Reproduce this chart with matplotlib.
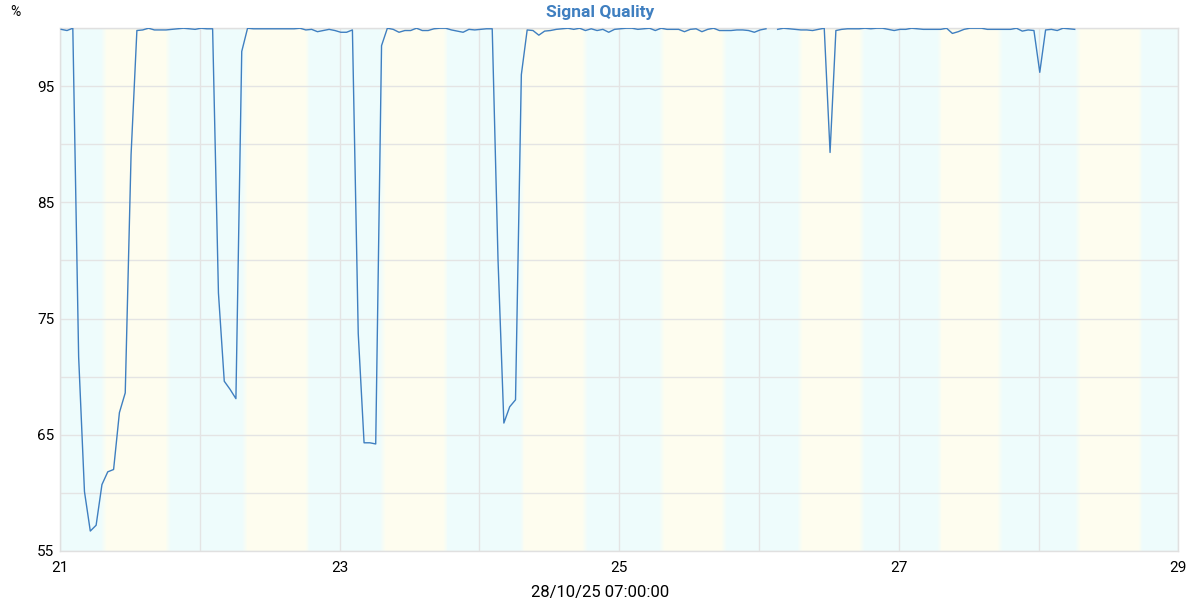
import numpy as np
import pandas as pd
import matplotlib
matplotlib.use("Agg")
import matplotlib.pyplot as plt
import matplotlib.dates as mdates
from matplotlib.colors import to_rgb

plt.rcParams['font.family'] = ['Roboto', 'DejaVu Sans']

# hourly signal quality samples (%), one missing reading
start = "2025-10-21 00:12"
quality = [
    99.9, 99.8, 100.0, 71.7, 60.1, 56.7, 57.2, 60.7, 61.8, 62.0,
    66.9, 68.6, 89.1, 99.8, 99.85, 100.0, 99.85, 99.85, 99.85, 99.9,
    99.95, 100.0, 99.95, 99.9, 100.0, 99.95, 99.95, 77.2, 69.6, 68.9,
    68.1, 98.0, 100.0, 99.95, 99.95, 99.95, 99.95, 99.95, 99.95, 99.95,
    99.95, 100.0, 99.85, 99.9, 99.7, 99.8, 99.9, 99.8, 99.65, 99.65,
    99.85, 73.7, 64.3, 64.3, 64.2, 98.5, 100.0, 99.9, 99.65, 99.8,
    99.8, 100.0, 99.8, 99.8, 99.95, 100.0, 100.0, 99.85, 99.75, 99.65,
    99.9, 99.85, 99.9, 99.95, 99.95, 80.0, 66.0, 67.4, 68.0, 96.0,
    99.85, 99.8, 99.4, 99.75, 99.8, 99.9, 99.95, 100.0, 99.9, 100.0,
    99.8, 99.95, 99.8, 99.9, 99.65, 99.9, 99.95, 100.0, 100.0, 99.9,
    99.95, 100.0, 99.8, 100.0, 99.9, 99.9, 99.9, 99.7, 99.9, 99.95,
    99.7, 99.9, 100.0, 99.8, 99.8, 99.8, 99.85, 99.85, 99.8, 99.65,
    99.85, 99.95, np.nan, 99.9, 100.0, 99.95, 99.9, 99.85, 99.85, 99.8,
    99.9, 100.0, 89.3, 99.8, 99.9, 99.95, 99.95, 99.95, 100.0, 99.95,
    100.0, 100.0, 99.9, 99.8, 99.9, 99.9, 100.0, 99.95, 99.9, 99.9,
    99.9, 99.9, 100.0, 99.55, 99.7, 99.9, 100.0, 100.0, 100.0, 99.9,
    99.9, 99.9, 99.9, 99.9, 100.0, 99.75, 99.85, 99.8, 96.2, 99.85,
    99.9, 99.8, 100.0, 99.95, 99.9,
]

# daylight bands (local hours)
days = pd.date_range("2025-10-21", "2025-10-29", freq="D")
sunrise_h = [7.6, 7.7, 7.4, 7.4, 7.3, 7.1, 7.0, 6.8]
sunset_h = [18.6, 18.5, 18.2, 18.1, 18.0, 17.7, 17.4, 17.5]

x_label = "28/10/25 07:00:00"
title = "Signal Quality"

times = pd.date_range(start, periods=len(quality), freq="h")

night_c = "#eefcfc"
day_c = "#fefdef"
blue = "#3f7fc0"


def blend(c1, c2, t):
    a = np.array(to_rgb(c1))
    b = np.array(to_rgb(c2))
    return tuple(a + (b - a) * t)


fig, ax = plt.subplots(figsize=(12, 6), dpi=100)
fig.subplots_adjust(left=0.05, right=0.982, top=0.953, bottom=0.082)

x0 = mdates.date2num(days[0])
x1 = mdates.date2num(days[-1])
ax.axvspan(x0, x1, color=night_c, lw=0, zorder=0)

fade = 0.02
steps = 6
for d, sr, ss in zip(days[:-1], sunrise_h, sunset_h):
    a = mdates.date2num(d) + sr / 24
    b = mdates.date2num(d) + ss / 24
    ax.axvspan(a + fade, b - fade, color=day_c, lw=0, zorder=0)
    w = 2 * fade / steps
    for k in range(steps):
        t = (k + 0.5) / steps
        ax.axvspan(a - fade + k * w, a - fade + (k + 1) * w,
                   color=blend(night_c, day_c, t), lw=0, zorder=0)
        ax.axvspan(b - fade + k * w, b - fade + (k + 1) * w,
                   color=blend(day_c, night_c, t), lw=0, zorder=0)

ax.plot(times, quality, color=blue, lw=1.0, zorder=3)

ax.set_xlim(x0, x1)
ax.set_ylim(55, 100)

day_nums = [mdates.date2num(d) for d in days]
ax.set_xticks(day_nums[::2])
ax.set_xticklabels([d.strftime("%d").lstrip("0") for d in days[::2]])
ax.set_xticks(day_nums[1::2], minor=True)
ax.set_yticks(np.arange(55, 100, 10))
ax.set_yticks(np.arange(60, 101, 10), minor=True)

ax.set_axisbelow(True)
ax.grid(True, which="both", color="#e4e4e4", lw=1)
ax.tick_params(which="both", length=0)
ax.tick_params(axis="x", labelsize=11, pad=7)
ax.tick_params(axis="y", labelsize=11, pad=4)
for s in ax.spines.values():
    s.set_color("#e0e0e0")
    s.set_linewidth(1)

fig.text(0.5, 1 - 592 / 600, x_label, ha="center", va="center", fontsize=12)
fig.text(0.5, 1 - 12 / 600, title, ha="center", va="center",
         fontsize=12.5, fontweight="bold", color=blue)
fig.text(15 / 1200, 1 - 12 / 600, "%", ha="center", va="center", fontsize=10)

fig.savefig("out.png", dpi=100)
